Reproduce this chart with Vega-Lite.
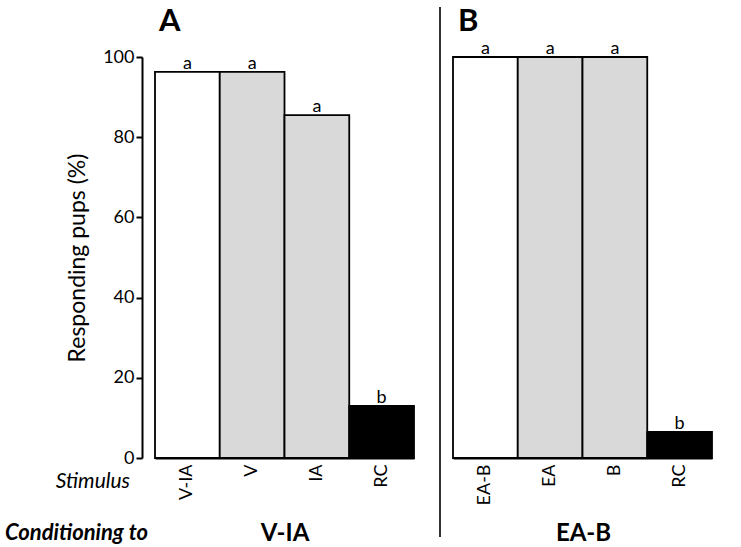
{
  "$schema": "https://vega.github.io/schema/vega-lite/v6.json",
  "config": {"font": "Lato", "view": {"stroke": null}, "axis": {"labelColor": "black", "titleColor": "black", "domainColor": "black", "tickColor": "black"}},
  "padding": {"left": 5, "top": 5, "right": 0, "bottom": 0},
  "spacing": 0,
  "datasets": {
    "bars": [
      {"panel": "A", "stimulus": "V-IA", "kind": "combined", "value": 96.3, "letter": "a"},
      {"panel": "A", "stimulus": "V", "kind": "single", "value": 96.3, "letter": "a"},
      {"panel": "A", "stimulus": "IA", "kind": "single", "value": 85.5, "letter": "a"},
      {"panel": "A", "stimulus": "RC", "kind": "control", "value": 13.0, "letter": "b"},
      {"panel": "B", "stimulus": "EA-B", "kind": "combined", "value": 100, "letter": "a"},
      {"panel": "B", "stimulus": "EA", "kind": "single", "value": 100, "letter": "a"},
      {"panel": "B", "stimulus": "B", "kind": "single", "value": 100, "letter": "a"},
      {"panel": "B", "stimulus": "RC", "kind": "control", "value": 6.5, "letter": "b"}
    ]
  },
  "hconcat": [
    {
      "width": 297,
      "height": 401,
      "layer": [
        {
          "data": {"name": "bars"},
          "transform": [{"filter": "datum.panel === 'A'"}],
          "mark": {"type": "bar", "stroke": "black", "strokeWidth": 1.8, "width": {"band": 1}},
          "encoding": {
            "x": {"field": "stimulus", "type": "nominal", "sort": null,
              "scale": {"range": [13, 272], "paddingInner": 0, "paddingOuter": 0},
              "axis": {"title": "V-IA", "titleFontSize": 24, "titleFontWeight": "bold", "titleX": 142.5, "titleY": 82, "titleBaseline": "alphabetic", "titleAlign": "center",
                "labelAngle": -90, "labelFontSize": 18, "labelPadding": 6, "ticks": false, "domainWidth": 2}},
            "y": {"field": "value", "type": "quantitative",
              "scale": {"domain": [0, 100], "nice": false, "zero": true},
              "axis": {"title": "Responding pups (%)", "titleFontSize": 23, "titleFontWeight": "normal", "titlePadding": 13,
                "values": [0, 20, 40, 60, 80, 100], "grid": false, "tickSize": 6, "tickWidth": 2, "domainWidth": 2, "labelFontSize": 18, "labelPadding": 2}},
            "fill": {"field": "kind", "type": "nominal",
              "scale": {"domain": ["combined", "single", "control"], "range": ["#ffffff", "#d9d9d9", "#000000"]}, "legend": null}
          }
        },
        {
          "data": {"name": "bars"},
          "transform": [{"filter": "datum.panel === 'A'"}],
          "mark": {"type": "text", "baseline": "alphabetic", "dy": -3, "fontSize": 18, "color": "black"},
          "encoding": {
            "x": {"field": "stimulus", "type": "nominal", "sort": null},
            "y": {"field": "value", "type": "quantitative"},
            "text": {"field": "letter"}
          }
        },
        {
          "data": {"values": [{"t": "A"}]},
          "mark": {"type": "text", "align": "left", "baseline": "alphabetic", "fontSize": 31, "fontWeight": "bold", "color": "black"},
          "encoding": {"x": {"value": 17}, "y": {"datum": 106.6}, "text": {"field": "t"}}
        },
        {
          "data": {"values": [{"t": "Stimulus"}]},
          "mark": {"type": "text", "align": "right", "baseline": "alphabetic", "fontSize": 21, "fontStyle": "italic", "color": "black"},
          "encoding": {"x": {"value": -12}, "y": {"datum": -7.5}, "text": {"field": "t"}}
        },
        {
          "data": {"values": [{"t": "Conditioning to"}]},
          "mark": {"type": "text", "align": "left", "baseline": "alphabetic", "fontSize": 22, "fontStyle": "italic", "fontWeight": "bold", "color": "black"},
          "encoding": {"x": {"value": -137}, "y": {"datum": -20.5}, "text": {"field": "t"}}
        }
      ]
    },
    {
      "width": 297,
      "height": 401,
      "layer": [
        {
          "data": {"name": "bars"},
          "transform": [{"filter": "datum.panel === 'B'"}],
          "mark": {"type": "bar", "stroke": "black", "strokeWidth": 1.8, "width": {"band": 1}},
          "encoding": {
            "x": {"field": "stimulus", "type": "nominal", "sort": null,
              "scale": {"range": [13, 272], "paddingInner": 0, "paddingOuter": 0},
              "axis": {"title": "EA-B", "titleFontSize": 24, "titleFontWeight": "bold", "titleX": 143, "titleY": 82, "titleBaseline": "alphabetic", "titleAlign": "center",
                "labelAngle": -90, "labelFontSize": 18, "labelPadding": 6, "ticks": false, "domainWidth": 2}},
            "y": {"field": "value", "type": "quantitative",
              "scale": {"domain": [0, 100], "nice": false, "zero": true}, "axis": null},
            "fill": {"field": "kind", "type": "nominal",
              "scale": {"domain": ["combined", "single", "control"], "range": ["#ffffff", "#d9d9d9", "#000000"]}, "legend": null}
          }
        },
        {
          "data": {"name": "bars"},
          "transform": [{"filter": "datum.panel === 'B'"}],
          "mark": {"type": "text", "baseline": "alphabetic", "dy": -3, "fontSize": 18, "color": "black"},
          "encoding": {
            "x": {"field": "stimulus", "type": "nominal", "sort": null},
            "y": {"field": "value", "type": "quantitative"},
            "text": {"field": "letter"}
          }
        },
        {
          "data": {"values": [{"t": "B"}]},
          "mark": {"type": "text", "align": "left", "baseline": "alphabetic", "fontSize": 31, "fontWeight": "bold", "color": "black"},
          "encoding": {"x": {"value": 18}, "y": {"datum": 106.6}, "text": {"field": "t"}}
        },
        {
          "data": {"values": [{"t": "divider"}]},
          "mark": {"type": "rule", "color": "#333333", "strokeWidth": 2},
          "encoding": {"x": {"value": 0}, "y": {"datum": 112.5}, "y2": {"datum": -19.7}}
        }
      ]
    }
  ]
}
